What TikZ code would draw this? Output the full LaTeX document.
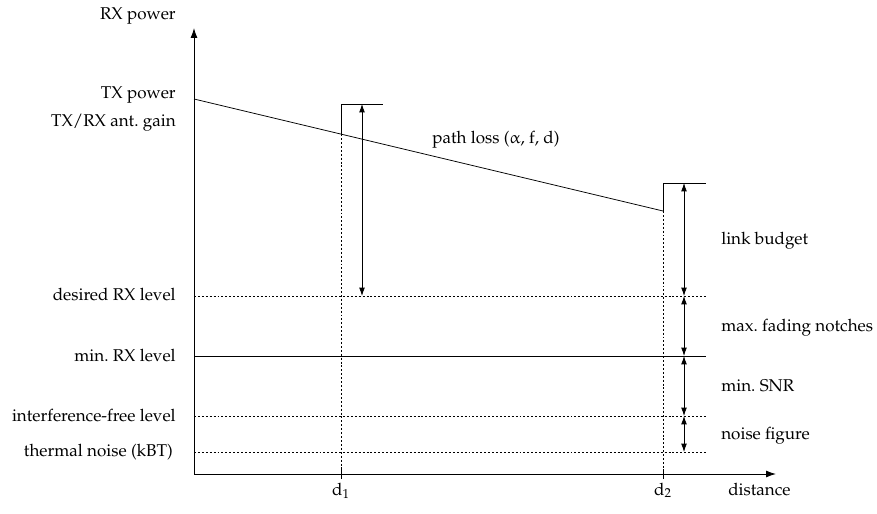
\documentclass[tikz,border=0pt]{standalone}
\usepackage[T1]{fontenc}
\usepackage{mathpazo}
\usepackage{upgreek}
\usetikzlibrary{arrows.meta}
\begin{document}
\begin{tikzpicture}[x=0.0233cm,y=-0.0233cm, font=\fontsize{11.3}{13.5}\selectfont,
  lbl/.style={inner sep=0pt, anchor=base east},
  rlbl/.style={inner sep=0pt, anchor=base west},
  clbl/.style={inner sep=0pt, anchor=base},
  dotline/.style={dash pattern=on 1.3pt off 1.3pt, line width=0.4pt},
  axis/.style={line width=0.6pt, -{Latex[length=6.5pt,width=4.5pt]}},
  dbl/.style={line width=0.5pt, {Latex[length=5.5pt,width=3.8pt]}-{Latex[length=5.5pt,width=3.8pt]}}]
\useasboundingbox (0,0) rectangle (877,513);
% axes
\coordinate (O) at (194,474);
\coordinate (Ytip) at (194,28);
\coordinate (Xtip) at (776,474);
\draw[axis] (O) -- (Ytip);
\draw[axis] (O) -- (Xtip);
% level lines
\coordinate (desL) at (194,296); \coordinate (desR) at (706,296);
\coordinate (minL) at (194,356); \coordinate (minR) at (706,356);
\coordinate (intL) at (194,416); \coordinate (intR) at (706,416);
\coordinate (thL) at (194,452);  \coordinate (thR) at (706,452);
\draw[dotline] (desL) -- (desR);
\draw[line width=0.5pt] (minL) -- (minR);
\draw[dotline] (intL) -- (intR);
\draw[dotline] (thL) -- (thR);
% path loss line
\coordinate (tx) at (194,99);
\coordinate (p1) at (341,134.1);
\coordinate (p2) at (663,211);
\draw[line width=0.5pt] (tx) -- (p2);
% steps
\coordinate (s1a) at (341,104); \coordinate (s1b) at (383,104);
\coordinate (s2a) at (663,183); \coordinate (s2b) at (706,183);
\draw[line width=0.5pt] (p1) -- (s1a) -- (s1b);
\draw[line width=0.5pt] (p2) -- (s2a) -- (s2b);
% distance markers
\coordinate (d1b) at (341,474); \coordinate (d2b) at (663,474);
\draw[dotline] (p1) -- (d1b);
\draw[dotline] (p2) -- (d2b);
\draw[line width=0.5pt] (341,469) -- (341,479);
\draw[line width=0.5pt] (663,469) -- (663,479);
% arrows
\coordinate (a1t) at (362,104); \coordinate (a1b) at (362,296);
\draw[dbl] (a1t) -- (a1b);
\coordinate (b0) at (684,183);
\coordinate (b1) at (684,296);
\coordinate (b2) at (684,356);
\coordinate (b3) at (684,416);
\coordinate (b4) at (684,452);
\draw[dbl] (b0) -- (b1);
\draw[dbl] (b1) -- (b2);
\draw[dbl] (b2) -- (b3);
\draw[dbl] (b3) -- (b4);
% labels
\node[lbl] (lrx) at (176,20) {RX power};
\node[lbl] (ltx) at (176,99) {TX power};
\node[lbl] (lant) at (176,126) {TX/RX ant.\ gain};
\node[lbl] (ldes) at (176,300.5) {desired RX level};
\node[lbl] (lmin) at (176,361) {min.\ RX level};
\node[lbl] (lint) at (176,421) {interference-free level};
\node[lbl] (lth) at (173,456.5) {thermal noise (kBT)};
\node[rlbl] (lpl) at (432,143) {path loss ($\upalpha$, f, d)};
\node[rlbl] (llb) at (721,244) {link budget};
\node[rlbl] (lfn) at (721,331) {max.\ fading notches};
\node[rlbl] (lsnr) at (721,391) {min.\ SNR};
\node[rlbl] (lnf) at (721,439) {noise figure};
\node[clbl] (ld1) at (341,495) {d$_1$};
\node[clbl] (ld2) at (663,495) {d$_2$};
\node[rlbl] (ldist) at (728,495) {distance};
\end{tikzpicture}
\end{document}
